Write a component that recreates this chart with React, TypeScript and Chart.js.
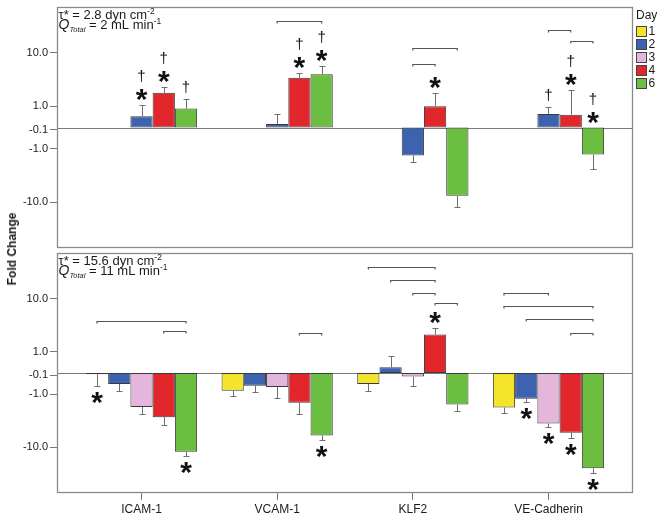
import React, { useEffect, useRef } from 'react';
import { Chart, registerables } from 'chart.js';

Chart.register(...registerables);

const FONT = '"Liberation Sans", Arial, Helvetica, sans-serif';

// ---------- data ----------
const categories = ['ICAM-1', 'VCAM-1', 'KLF2', 'VE-Cadherin'];
const dayLabels = ['1', '2', '3', '4', '6'];
const dayColors = ['#f4e42b', '#3c62b0', '#e4b6dc', '#e2272c', '#6cbe41'];

const yTickValues = [-10, -1, -0.1, 1, 10];
const yTickLabels = ['-10.0', '-1.0', '-0.1', '1.0', '10.0'];

// Panel 1: tau* = 2.8 dyn cm-2 (days 1 and 3 not measured)
const lowDay1: (number | null)[] = [null, null, null, null];
const lowDay3: (number | null)[] = [null, null, null, null];
const lowDay2 = [0.53, 0.16, -1.33, 0.63];
const lowDay4 = [1.78, 3.4, 1.0, 0.6];
const lowDay6 = [0.89, 3.98, -7.6, -1.28];
const lowDay1Err: (number | null)[] = [null, null, null, null];
const lowDay3Err: (number | null)[] = [null, null, null, null];
const lowDay2Err = [1.03, 0.63, -1.73, 0.98];
const lowDay4Err = [2.24, 4.1, 1.76, 2.0];
const lowDay6Err = [1.36, 5.6, -12.1, -2.4];
const lowStars: [number, string][] = [[0, '2'], [0, '4'], [1, '4'], [1, '6'], [2, '4'], [3, '4'], [3, '6']];
const lowDaggers: [number, string][] = [[0, '2'], [0, '4'], [0, '6'], [1, '4'], [1, '6'], [3, '2'], [3, '4'], [3, '6']];
const lowBrackets: [number, string, string, number][] = [
  [1, '2', '6', 38.8], [2, '2', '6', 12.3], [2, '2', '4', 6.2], [3, '2', '4', 27.1], [3, '4', '6', 16.9],
];

// Panel 2: tau* = 15.6 dyn cm-2
const highDay1 = [-0.06, -0.83, -0.52, -1.78];
const highDay2 = [-0.52, -0.6, 0.27, -1.21];
const highDay3 = [-1.73, -0.66, -0.17, -3.56];
const highDay4 = [-2.7, -1.44, 2.12, -5.3];
const highDay6 = [-12.1, -5.97, -1.56, -24.8];
const highDay1Err = [-0.61, -1.08, -0.84, -2.24];
const highDay2Err = [-0.84, -0.91, 0.8, -1.41];
const highDay3Err = [-2.31, -1.17, -0.63, -4.23];
const highDay4Err = [-3.76, -2.31, 2.86, -6.6];
const highDay6Err = [-14.6, -7.3, -2.03, -30.3];
const highStars: [number, string][] = [[0, '1'], [0, '6'], [1, '6'], [2, '4'], [3, '2'], [3, '3'], [3, '4'], [3, '6']];
const highDaggers: [number, string][] = [];
const highBrackets: [number, string, string, number][] = [
  [0, '1', '6', 3.83], [0, '4', '6', 2.41], [1, '4', '6', 2.24],
  [2, '1', '4', 39.4], [2, '2', '4', 22.5], [2, '3', '4', 12.7], [2, '4', '6', 8.3],
  [3, '1', '3', 13.0], [3, '1', '6', 7.2], [3, '2', '6', 4.1], [3, '4', '6', 2.3],
];

// ---------- axis transform (split log scale around zero) ----------
const C = 0.4;
const tf = (v: number) => (Math.abs(v) >= 1 ? Math.sign(v) * (Math.log10(Math.abs(v)) + C) : v * C);
const Y_EXT = 2.26;

type Run = { text: string; font: string; dy: number };

type PanelSpec = {
  order: string[];
  values: (number | null)[][];
  errors: (number | null)[][];
  stars: [number, string][];
  daggers: [number, string][];
  brackets: [number, string, string, number][];
  line1: Run[];
  line2: Run[];
  showX: boolean;
  legend: boolean;
  marksAbove: boolean;
  height: number;
  padTop: number;
  padBottom: number;
};

const mainF = `13px ${FONT}`;
const supF = `8.5px ${FONT}`;
const qF = `italic 14px ${FONT}`;
const subF = `italic 7.5px ${FONT}`;

const lowSpec: PanelSpec = {
  order: ['1', '3', '2', '4', '6'],
  values: [lowDay1, lowDay3, lowDay2, lowDay4, lowDay6],
  errors: [lowDay1Err, lowDay3Err, lowDay2Err, lowDay4Err, lowDay6Err],
  stars: lowStars,
  daggers: lowDaggers,
  brackets: lowBrackets,
  line1: [
    { text: 'τ* = 2.8 dyn cm', font: mainF, dy: 0 },
    { text: '-2', font: supF, dy: -5 },
  ],
  line2: [
    { text: 'Q', font: qF, dy: 0 },
    { text: 'Total', font: subF, dy: 3 },
    { text: ' = 2 mL min', font: mainF, dy: 0 },
    { text: '-1', font: supF, dy: -5 },
  ],
  showX: false,
  legend: true,
  marksAbove: true,
  height: 250,
  padTop: 7,
  padBottom: 2,
};

const highSpec: PanelSpec = {
  order: ['1', '2', '3', '4', '6'],
  values: [highDay1, highDay2, highDay3, highDay4, highDay6],
  errors: [highDay1Err, highDay2Err, highDay3Err, highDay4Err, highDay6Err],
  stars: highStars,
  daggers: highDaggers,
  brackets: highBrackets,
  line1: [
    { text: 'τ* = 15.6 dyn cm', font: mainF, dy: 0 },
    { text: '-2', font: supF, dy: -5 },
  ],
  line2: [
    { text: 'Q', font: qF, dy: 0 },
    { text: 'Total', font: subF, dy: 3 },
    { text: ' = 11 mL min', font: mainF, dy: 0 },
    { text: '-1', font: supF, dy: -5 },
  ],
  showX: true,
  legend: false,
  marksAbove: false,
  height: 270,
  padTop: 3,
  padBottom: 0,
};

function drawRuns(ctx: CanvasRenderingContext2D, x: number, y: number, runs: Run[]) {
  let cx = x;
  ctx.textAlign = 'left';
  ctx.textBaseline = 'alphabetic';
  for (const r of runs) {
    ctx.font = r.font;
    ctx.fillText(r.text, cx, y + r.dy);
    cx += ctx.measureText(r.text).width;
  }
}

function drawGlyph(ctx: CanvasRenderingContext2D, ch: string, font: string, x: number, cy: number) {
  ctx.font = font;
  ctx.textAlign = 'center';
  ctx.textBaseline = 'alphabetic';
  const m = ctx.measureText(ch);
  const base = cy + (m.actualBoundingBoxAscent - m.actualBoundingBoxDescent) / 2;
  ctx.fillText(ch, x, base);
}

function makePlugin(spec: PanelSpec) {
  return {
    id: 'deco',
    beforeDatasetsDraw(chart: any) {
      const { ctx, chartArea: a, scales } = chart;
      const y0 = Math.round(scales.y.getPixelForValue(0)) + 0.5;
      ctx.save();
      ctx.strokeStyle = '#7a7a7a';
      ctx.lineWidth = 1;
      ctx.beginPath();
      ctx.moveTo(a.left, y0);
      ctx.lineTo(a.right, y0);
      ctx.stroke();
      ctx.restore();
    },
    afterDatasetsDraw(chart: any) {
      const { ctx, scales } = chart;
      const ys = scales.y;
      const basePix = ys.getPixelForValue(0);
      ctx.save();
      // error bars
      ctx.strokeStyle = '#6e6e6e';
      ctx.lineWidth = 1;
      spec.order.forEach((_, slot) => {
        const meta = chart.getDatasetMeta(slot);
        spec.values[slot].forEach((v, ci) => {
          const e = spec.errors[slot][ci];
          if (v == null || e == null) return;
          const el = meta.data[ci];
          const x = Math.round(el.x) + 0.5;
          const ep = Math.round(ys.getPixelForValue(tf(e))) + 0.5;
          ctx.beginPath();
          ctx.moveTo(x, el.y);
          ctx.lineTo(x, ep);
          ctx.moveTo(x - 3, ep);
          ctx.lineTo(x + 3, ep);
          ctx.stroke();
        });
      });

      const barInfo = (ci: number, day: string) => {
        const slot = spec.order.indexOf(day);
        const el = chart.getDatasetMeta(slot).data[ci];
        const v = spec.values[slot][ci] as number;
        const e = spec.errors[slot][ci] as number;
        const ep = ys.getPixelForValue(tf(e));
        let up: boolean;
        let anchor: number;
        if (spec.marksAbove) {
          up = true;
          anchor = Math.min(ep, basePix);
        } else {
          up = v >= 0;
          anchor = ep;
        }
        return { x: el.x, up, anchor };
      };

      ctx.fillStyle = '#111';
      const starFont = `bold 30px ${FONT}`;
      const dagFont = `15px ${FONT}`;
      spec.stars.forEach(([ci, day]) => {
        const b = barInfo(ci, day);
        const cy = b.up ? b.anchor - 10 : b.anchor + 12;
        drawGlyph(ctx, '*', starFont, b.x, cy);
      });
      spec.daggers.forEach(([ci, day]) => {
        const b = barInfo(ci, day);
        const hasStar = spec.stars.some(([c2, d2]) => c2 === ci && d2 === day);
        const off = hasStar ? 29 : 12;
        const cy = b.up ? b.anchor - off : b.anchor + off;
        drawGlyph(ctx, '†', dagFont, b.x, cy);
      });

      // significance brackets
      ctx.strokeStyle = '#555';
      ctx.lineWidth = 1.2;
      spec.brackets.forEach(([ci, d1, d2, lvl]) => {
        const x1 = chart.getDatasetMeta(spec.order.indexOf(d1)).data[ci].x;
        const x2 = chart.getDatasetMeta(spec.order.indexOf(d2)).data[ci].x;
        const yy = Math.round(ys.getPixelForValue(tf(lvl))) + 0.5;
        ctx.beginPath();
        ctx.moveTo(x1, yy + 2);
        ctx.lineTo(x1, yy);
        ctx.lineTo(x2, yy);
        ctx.lineTo(x2, yy + 2);
        ctx.stroke();
      });
      ctx.restore();
    },
    afterDraw(chart: any) {
      const { ctx, chartArea: a } = chart;
      ctx.save();
      // panel box
      ctx.strokeStyle = '#8a8a8a';
      ctx.lineWidth = 1.3;
      ctx.strokeRect(a.left + 0.5, a.top + 0.5, a.right - a.left - 1, a.bottom - a.top - 1);
      // condition text
      ctx.fillStyle = '#1a1a1a';
      drawRuns(ctx, a.left + 1.5, a.top + 11.7, spec.line1);
      drawRuns(ctx, a.left + 1.5, a.top + 22.3, spec.line2);
      // legend
      if (spec.legend) {
        ctx.font = `12px ${FONT}`;
        ctx.textAlign = 'left';
        ctx.textBaseline = 'alphabetic';
        ctx.fillStyle = '#1a1a1a';
        ctx.fillText('Day', 636, 18.5);
        dayLabels.forEach((d, i) => {
          const top = 26.5 + i * 13;
          ctx.fillStyle = dayColors[i];
          ctx.fillRect(636.5, top, 10, 10);
          ctx.strokeStyle = '#444';
          ctx.lineWidth = 1;
          ctx.strokeRect(636.5, top, 10, 10);
          ctx.fillStyle = '#1a1a1a';
          ctx.textBaseline = 'middle';
          ctx.fillText(d, 648.5, top + 5.5);
          ctx.textBaseline = 'alphabetic';
        });
      }
      ctx.restore();
    },
  };
}

function buildConfig(spec: PanelSpec): any {
  const datasets = spec.order.map((day, slot) => {
    const ci = dayLabels.indexOf(day);
    return {
      label: 'Day ' + day,
      data: spec.values[slot].map((v, i) => ({ x: i, y: v == null ? null : tf(v) })),
      backgroundColor: dayColors[ci],
      borderColor: '#3a3a3a',
      borderWidth: 1,
      borderSkipped: false,
      categoryPercentage: 0.82,
      barPercentage: 1,
    };
  });
  return {
    type: 'bar',
    data: { datasets },
    options: {
      animation: false,
      responsive: false,
      devicePixelRatio: 1,
      layout: { padding: { left: 0, right: 31, top: spec.padTop, bottom: spec.padBottom } },
      plugins: { legend: { display: false }, tooltip: { enabled: false }, title: { display: false } },
      scales: {
        x: {
          type: 'linear',
          display: spec.showX,
          min: -0.623,
          max: 3.623,
          offset: false,
          afterBuildTicks: (s: any) => {
            s.ticks = categories.map((_, i) => ({ value: i }));
          },
          afterFit: (s: any) => {
            s.height = spec.showX ? 27 : 0;
            s.paddingLeft = 0;
            s.paddingRight = 0;
          },
          ticks: {
            autoSkip: false,
            maxRotation: 0,
            padding: 2,
            color: '#1a1a1a',
            font: { family: FONT, size: 12 },
            callback: (_v: any, i: number) => categories[i],
          },
          grid: { drawOnChartArea: false, drawTicks: true, tickLength: 7, color: '#777', offset: false },
          border: { display: false },
        },
        y: {
          type: 'linear',
          position: 'left',
          min: -Y_EXT,
          max: Y_EXT,
          afterBuildTicks: (s: any) => {
            s.ticks = yTickValues.map((v) => ({ value: tf(v) }));
          },
          afterFit: (s: any) => {
            s.width = 57;
            s.paddingTop = 0;
            s.paddingBottom = 0;
          },
          ticks: {
            autoSkip: false,
            padding: 2,
            color: '#1a1a1a',
            font: { family: FONT, size: 11 },
            callback: (_v: any, i: number) => yTickLabels[i],
          },
          grid: { drawOnChartArea: false, drawTicks: true, tickLength: 7, color: '#777' },
          border: { display: false },
        },
      },
    },
    plugins: [makePlugin(spec)],
  };
}

function Panel({ spec, top }: { spec: PanelSpec; top: number }) {
  const ref = useRef<HTMLCanvasElement>(null);
  useEffect(() => {
    const chart = new Chart(ref.current as HTMLCanvasElement, buildConfig(spec));
    return () => chart.destroy();
  }, [spec]);
  return (
    <canvas
      ref={ref}
      width={664}
      height={spec.height}
      style={{ position: 'absolute', left: 0, top, width: 664, height: spec.height }}
    />
  );
}

export default function App() {
  return (
    <div style={{ position: 'absolute', left: 0, top: 0, width: 664, height: 520, background: '#fff', overflow: 'hidden' }}>
      <Panel spec={lowSpec} top={0} />
      <Panel spec={highSpec} top={250} />
      <div
        style={{
          position: 'absolute',
          left: 12,
          top: 249,
          transform: 'translate(-50%, -50%) rotate(-90deg)',
          fontFamily: FONT,
          fontWeight: 'bold',
          fontSize: 12,
          color: '#1a1a1a',
          whiteSpace: 'nowrap',
        }}
      >
        Fold Change
      </div>
    </div>
  );
}
